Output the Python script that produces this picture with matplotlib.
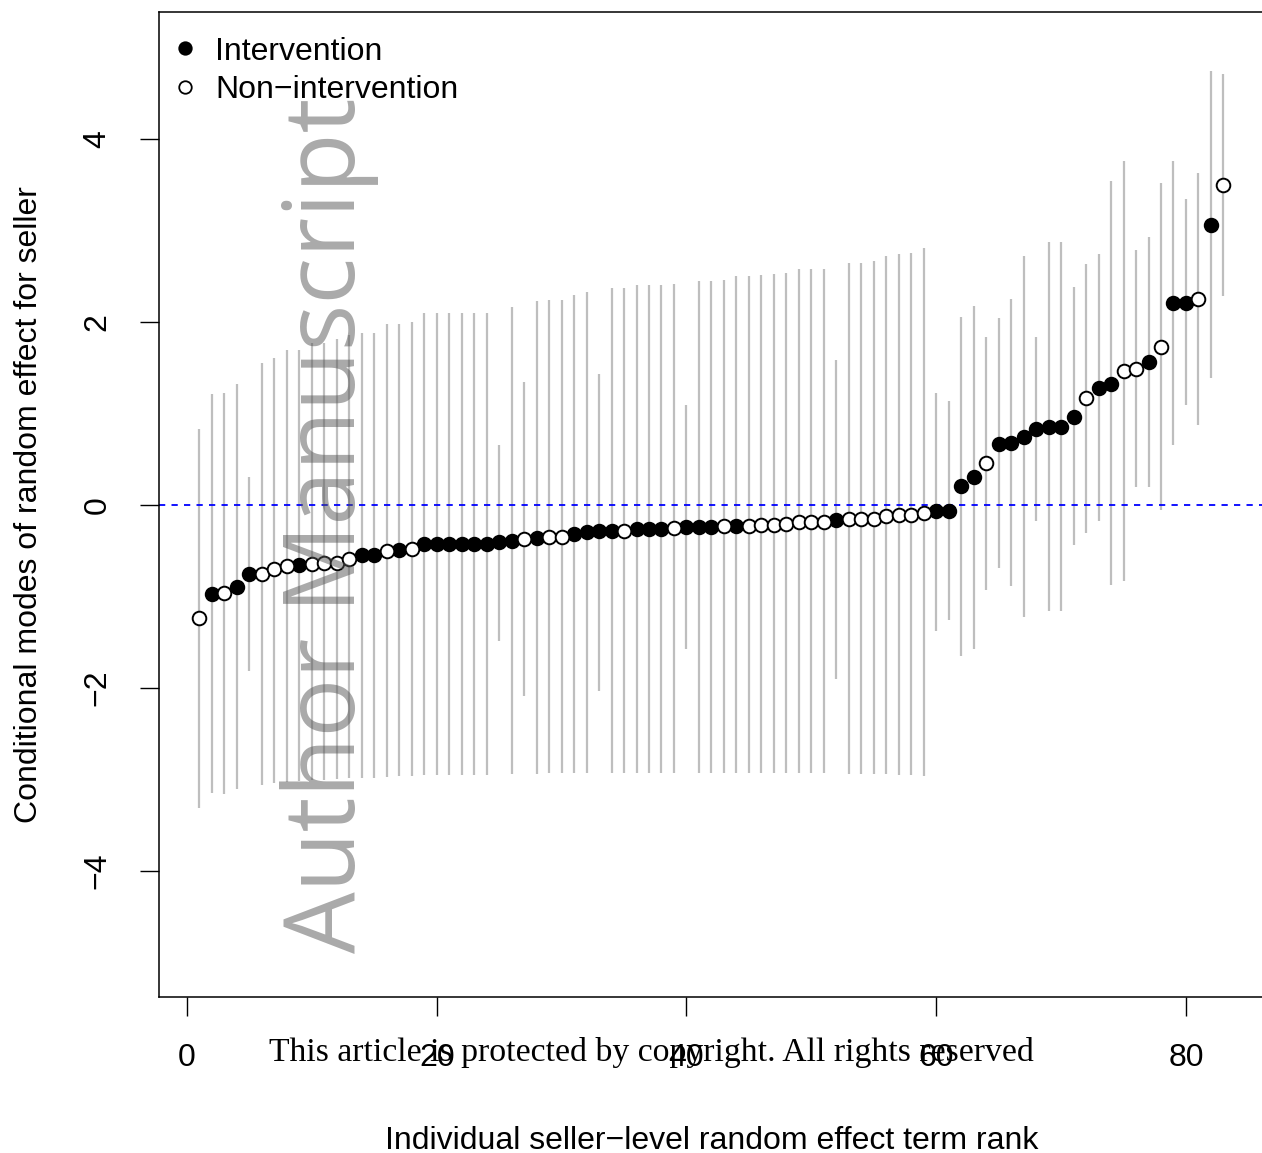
import matplotlib
matplotlib.use("Agg")
import matplotlib.pyplot as plt
from matplotlib.lines import Line2D
import numpy as np

# conditional modes, ranked, with interval ends
rank = list(range(1, 84))
group = ["O", "F", "O", "F", "F", "O", "O", "O", "F", "O",
         "O", "O", "O", "F", "F", "O", "F", "O", "F", "F",
         "F", "F", "F", "F", "F", "F", "O", "F", "O", "O",
         "F", "F", "F", "F", "O", "F", "F", "F", "O", "F",
         "F", "F", "O", "F", "O", "O", "O", "O", "O", "O",
         "O", "F", "O", "O", "O", "O", "O", "O", "O", "F",
         "F", "F", "F", "O", "F", "F", "F", "F", "F", "F",
         "F", "O", "F", "F", "O", "O", "F", "O", "F", "F",
         "O", "F", "O"]
mode = [-1.235, -0.97, -0.965, -0.90, -0.755, -0.76, -0.70, -0.667, -0.66, -0.645,
        -0.64, -0.64, -0.595, -0.55, -0.55, -0.50, -0.495, -0.485, -0.43, -0.43,
        -0.43, -0.43, -0.43, -0.43, -0.41, -0.39, -0.375, -0.357, -0.346, -0.346,
        -0.317, -0.30, -0.29, -0.28, -0.28, -0.266, -0.266, -0.266, -0.255, -0.237,
        -0.237, -0.237, -0.23, -0.225, -0.225, -0.215, -0.215, -0.21, -0.19, -0.19,
        -0.19, -0.164, -0.153, -0.153, -0.15, -0.125, -0.114, -0.11, -0.085, -0.07,
        -0.066, 0.21, 0.31, 0.455, 0.667, 0.68, 0.747, 0.834, 0.856, 0.856,
        0.965, 1.166, 1.28, 1.32, 1.47, 1.49, 1.56, 1.73, 2.21, 2.21,
        2.25, 3.06, 3.50]
upper = [0.83, 1.21, 1.22, 1.32, 0.31, 1.555, 1.61, 1.69, 1.69, 1.77,
         1.77, 1.81, 1.86, 1.88, 1.88, 1.98, 1.98, 2.0, 2.095, 2.095,
         2.10, 2.10, 2.10, 2.10, 0.66, 2.16, 1.34, 2.23, 2.24, 2.24,
         2.295, 2.33, 1.43, 2.37, 2.375, 2.40, 2.40, 2.40, 2.42, 1.09,
         2.45, 2.45, 2.46, 2.50, 2.50, 2.515, 2.52, 2.535, 2.585, 2.585,
         2.585, 1.58, 2.65, 2.65, 2.67, 2.72, 2.74, 2.76, 2.81, 1.22,
         1.14, 2.05, 2.17, 1.84, 2.04, 2.25, 2.72, 1.84, 2.87, 2.87,
         2.38, 2.64, 2.74, 3.54, 3.76, 2.79, 2.93, 3.52, 3.76, 3.34,
         3.63, 4.74, 4.71]
lower = [-3.31, -3.15, -3.16, -3.11, -1.82, -3.06, -3.04, -3.03, -3.02, -3.01,
         -3.005, -3.0, -2.99, -2.98, -2.98, -2.97, -2.96, -2.96, -2.95, -2.95,
         -2.95, -2.95, -2.95, -2.95, -1.49, -2.94, -2.09, -2.94, -2.93, -2.93,
         -2.93, -2.93, -2.03, -2.93, -2.93, -2.93, -2.93, -2.93, -2.93, -1.58,
         -2.93, -2.93, -2.93, -2.93, -2.93, -2.93, -2.93, -2.93, -2.93, -2.93,
         -2.93, -1.90, -2.94, -2.94, -2.94, -2.94, -2.95, -2.95, -2.96, -1.38,
         -1.26, -1.65, -1.57, -0.93, -0.69, -0.885, -1.23, -0.175, -1.16, -1.16,
         -0.437, -0.31, -0.18, -0.874, -0.83, 0.20, 0.20, -0.055, 0.656, 1.09,
         0.875, 1.39, 2.29]

plt.rcParams['font.family'] = ['Liberation Sans', 'DejaVu Sans']
plt.rcParams['lines.scale_dashes'] = False

W, H = 1262, 1153
fig = plt.figure(figsize=(W / 100, H / 100), dpi=100)
ax = fig.add_axes([158.5 / W, 1 - 997 / H, (1264.4 - 158.5) / W, (997 - 12) / H])

x = np.array(rank)
y = np.array(mode)
grp = np.array(group)

ax.vlines(x, lower, upper, color="#bebebe", lw=1.6, zorder=1)
ax.axhline(0, color="blue", lw=1.3, dashes=(4.5, 4.5), zorder=1.5)

fill = grp == "F"
ax.plot(x[fill], y[fill], "o", ms=9.8, mfc="black", mec="black", mew=1.3, ls="none", zorder=3)
ax.plot(x[~fill], y[~fill], "o", ms=9.8, mfc="white", mec="black", mew=1.4, ls="none", zorder=3)

ax.set_xlim(-2.28, 86.28)
ax.set_ylim(-5.38, 5.39)
ax.set_xticks([0, 20, 40, 60, 80])
ax.set_yticks([-4, -2, 0, 2, 4])
ax.set_yticklabels(["\u22124", "\u22122", "0", "2", "4"], rotation=90, va="center")
ax.tick_params(direction="out", length=14, width=1.0, labelsize=23, pad=19, color="black")
for s in ax.spines.values():
    s.set_linewidth(1.1)

ax.set_xlabel("Individual seller\u2212level random effect term rank", fontsize=23, labelpad=38)
ax.set_ylabel("Conditional modes of random effect for seller", fontsize=23, labelpad=28)

handles = [Line2D([], [], marker="o", ls="none", ms=9.0, mfc="black", mec="black", mew=1.3),
           Line2D([], [], marker="o", ls="none", ms=9.0, mfc="white", mec="black", mew=1.3)]
ax.legend(handles, ["Intervention", "Non\u2212intervention"], loc="upper left",
          bbox_to_anchor=(0.0095, 0.975), frameon=False, fontsize=23,
          handlelength=1.0, handletextpad=0.45, borderaxespad=0, borderpad=0,
          labelspacing=0.27)

# watermark and footer, fitted to the extents seen on the page
wm = fig.text(329 / W, 1 - 525.5 / H, "Author Manuscript", rotation=90, fontsize=80,
              color="#555555", alpha=0.5, ha="center", va="center",
              family=["Open Sans", "DejaVu Sans"], zorder=2)
ft = fig.text(651 / W, 1 - 1053 / H, "This article is protected by copyright. All rights reserved",
              fontsize=20, color="black", ha="center", va="center",
              family=["Liberation Serif", "DejaVu Serif"])
fig.canvas.draw()
r = fig.canvas.get_renderer()
wm.set_fontsize(80 * 855 / wm.get_window_extent(r).height)
ft.set_fontsize(20 * 763 / ft.get_window_extent(r).width)

fig.savefig("out.png", dpi=100)
